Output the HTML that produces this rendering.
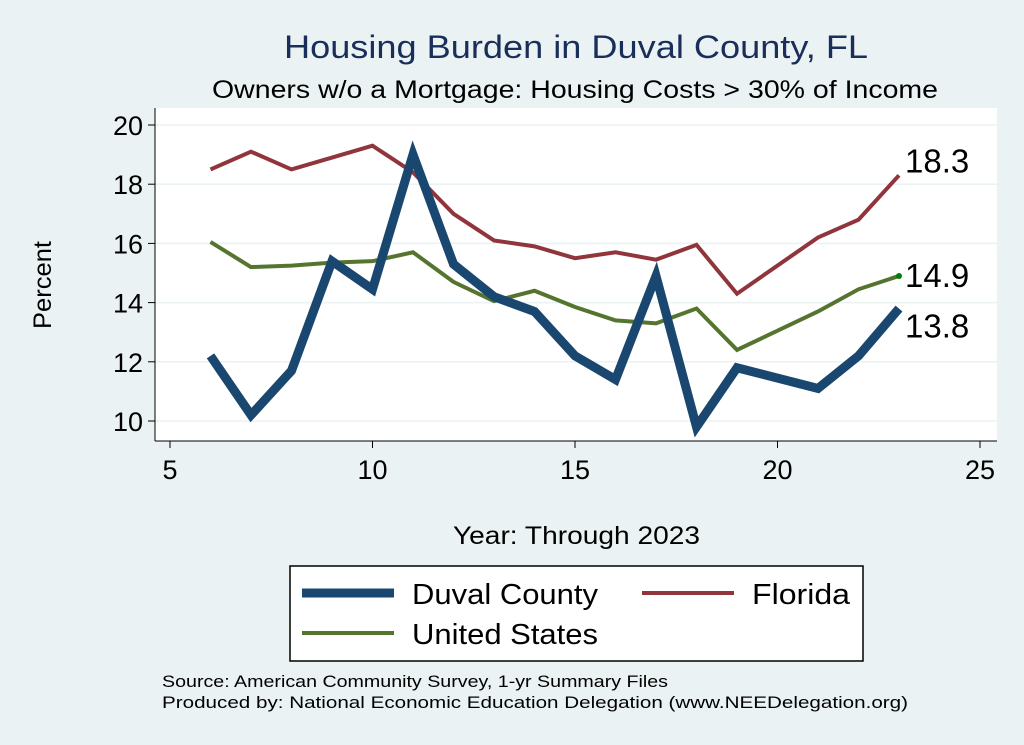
<!DOCTYPE html>
<html><head><meta charset="utf-8"><style>
body{margin:0;background:#eaf2f3;}
svg{display:block;font-family:"Liberation Sans",sans-serif;}
</style></head><body>
<svg id="c" width="1024" height="745">
<rect x="0" y="0" width="1024" height="745" fill="#eaf2f3"/>
<text x="284" y="58" font-size="32" fill="#1a2e5a" textLength="584" lengthAdjust="spacingAndGlyphs">Housing Burden in Duval County, FL</text>
<text x="212" y="98" font-size="25" fill="#000" textLength="726" lengthAdjust="spacingAndGlyphs">Owners w/o a Mortgage: Housing Costs &gt; 30% of Income</text>
<rect x="155" y="108" width="842" height="333" fill="#fff"/>
<g id="grid"></g><g id="axes"></g><g id="lines"></g>
<text x="453" y="544" font-size="25" textLength="247" lengthAdjust="spacingAndGlyphs">Year: Through 2023</text>
<text transform="translate(51,285) rotate(-90)" font-size="25" text-anchor="middle" textLength="88" lengthAdjust="spacingAndGlyphs">Percent</text>
<g>
<rect x="290" y="566" width="573" height="95" fill="#fff" stroke="#000" stroke-width="1.5"/>
<line x1="302" y1="593" x2="394" y2="593" stroke="#1a476f" stroke-width="9"/>
<text x="412" y="604" font-size="29" textLength="186" lengthAdjust="spacingAndGlyphs">Duval County</text>
<line x1="642" y1="593" x2="734" y2="593" stroke="#90353b" stroke-width="4"/>
<text x="752" y="604" font-size="29" textLength="98" lengthAdjust="spacingAndGlyphs">Florida</text>
<line x1="302" y1="633" x2="394" y2="633" stroke="#55752f" stroke-width="4"/>
<text x="412" y="644" font-size="29" textLength="186" lengthAdjust="spacingAndGlyphs">United States</text>
</g>
<text x="162" y="687" font-size="17" textLength="506" lengthAdjust="spacingAndGlyphs">Source: American Community Survey, 1-yr Summary Files</text>
<text x="162" y="708" font-size="17" textLength="746" lengthAdjust="spacingAndGlyphs">Produced by: National Economic Education Delegation (www.NEEDelegation.org)</text>
</svg>
<script>
const years=[6,7,8,9,10,11,12,13,14,15,16,17,18,19,21,22,23];
const duval=[12.2,10.2,11.7,15.4,14.45,19.0,15.3,14.2,13.7,12.2,11.4,14.9,9.8,11.8,11.1,12.2,13.8];
const florida=[18.5,19.1,18.5,18.9,19.3,18.4,17.0,16.1,15.9,15.5,15.7,15.45,15.95,14.3,16.2,16.8,18.3];
const us=[16.05,15.2,15.25,15.35,15.4,15.7,14.7,14.05,14.4,13.85,13.4,13.3,13.8,12.4,13.7,14.45,14.9];
const xTicks=[5,10,15,20,25];
const yTicks=[10,12,14,16,18,20];
const NS="http://www.w3.org/2000/svg";
const X=v=>170+(v-5)*40.5, Y=v=>421-(v-10)*29.6;
function mk(p,t,a){const e=document.createElementNS(NS,t);for(const k in a)e.setAttribute(k,a[k]);p.appendChild(e);return e;}
const g=document.getElementById('grid'),ax=document.getElementById('axes'),ln=document.getElementById('lines');
mk(ax,'line',{x1:155,y1:108,x2:155,y2:441,stroke:'#000','stroke-width':1});
mk(ax,'line',{x1:155,y1:441,x2:997,y2:441,stroke:'#000','stroke-width':1});
yTicks.forEach(t=>{
 const l=mk(g,'line',{x1:155,x2:997,y1:Y(t),y2:Y(t),stroke:'#eaf2f3','stroke-width':1.5});
 
 
 mk(ax,'line',{x1:148,x2:155,y1:Y(t),y2:Y(t),stroke:'#000'});
 const tx=mk(ax,'text',{x:143,y:Y(t)+10,'font-size':27,'text-anchor':'end'});tx.textContent=t;
 
 
});
xTicks.forEach(t=>{
 mk(ax,'line',{x1:X(t),x2:X(t),y1:441,y2:448,stroke:'#000'});
 const tx=mk(ax,'text',{x:X(t),y:479,'font-size':27,'text-anchor':'middle'});tx.textContent=t;
 
 
});
function series(vals,col,w,name){
 const p=mk(ln,'polyline',{points:years.map((y,i)=>X(y)+','+Y(vals[i])).join(' '),fill:'none',stroke:col,'stroke-width':w,'stroke-linejoin':'miter'});
 
 
}
series(us,'#55752f',4,'line-united-states');
series(florida,'#90353b',4,'line-florida');
series(duval,'#1a476f',9,'line-duval-county');
const n=years.length-1;
mk(ln,'circle',{cx:X(years[n]),cy:Y(us[n]),r:3,fill:'#008000'});
[[florida[n],-3,'label-florida'],[us[n],11,'label-us'],[duval[n],29,'label-duval']].forEach(([v,dy,nm])=>{
 const t=mk(ln,'text',{x:X(years[n])+6,y:Y(v)+dy,'font-size':33});t.textContent=v.toFixed(1);
 
 
});
</script>
</body></html>
